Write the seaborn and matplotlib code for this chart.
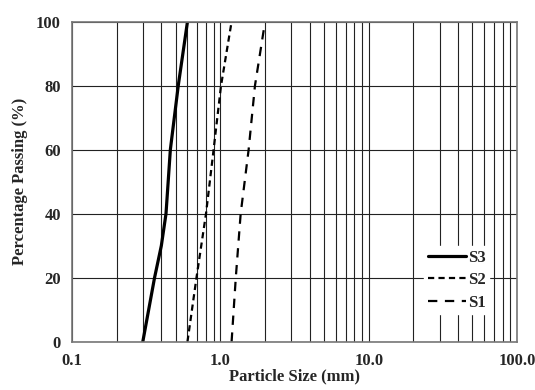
import matplotlib
matplotlib.use('Agg')
import matplotlib.pyplot as plt
import matplotlib.ticker as mticker
import pandas as pd
import seaborn as sns

# Grain size distribution curves
s3_size = [0.30, 0.36, 0.40, 0.43, 0.46, 0.52, 0.60]
s3_pass = [0, 20, 30, 40, 60, 80, 100]
s2_size = [0.60, 0.69, 0.80, 0.90, 1.01, 1.19]
s2_pass = [0, 20, 40, 60, 80, 100]
s1_size = [1.19, 1.27, 1.37, 1.55, 1.71, 2.00]
s1_pass = [0, 20, 40, 60, 80, 100]

x_ticks = [0.1, 1, 10, 100]
x_tick_labels = ['0.1', '1.0', '10.0', '100.0']
y_ticks = [0, 20, 40, 60, 80, 100]

sns.set_style('white')
plt.rcParams['font.family'] = ['Liberation Serif', 'DejaVu Serif']
plt.rcParams['font.weight'] = 'bold'

fig = plt.figure(figsize=(5.35, 3.9), dpi=100)
ax = fig.add_axes([0.1346, 0.1238, 0.832, 0.8206])

series = [
    ('S3', s3_size, s3_pass, dict(linewidth=2.3, linestyle='-')),
    ('S2', s2_size, s2_pass, dict(linewidth=1.6, dashes=(2.8, 1.9))),
    ('S1', s1_size, s1_pass, dict(linewidth=1.6, dashes=(4.2, 3.4))),
]
for name, xs, ys, style in series:
    df = pd.DataFrame({'size': xs, 'passing': ys})
    sns.lineplot(data=df, x='size', y='passing', ax=ax, color='black',
                 label=name, sort=False, estimator=None, **style)

ax.set_xscale('log')
ax.set_xlim(0.1, 100)
ax.set_ylim(0, 100)
ax.set_xticks(x_ticks)
ax.set_xticklabels(x_tick_labels)
ax.xaxis.set_minor_locator(mticker.LogLocator(base=10, subs=range(2, 10)))
ax.xaxis.set_minor_formatter(mticker.NullFormatter())
ax.set_yticks(y_ticks)
ax.grid(True, which='both', axis='x', color='#222222', linewidth=0.8)
ax.grid(True, which='major', axis='y', color='#222222', linewidth=0.8)
ax.set_axisbelow(True)
ax.tick_params(axis='both', which='both', length=0, labelsize=12, pad=8)
for lab in ax.get_xticklabels() + ax.get_yticklabels():
    lab.set_fontweight('bold')
for sp in ax.spines.values():
    sp.set_color('#777777')
    sp.set_linewidth(1.2)

ax.set_xlabel('Particle Size (mm)', fontsize=12, fontweight='bold', labelpad=0)
ax.set_ylabel('Percentage Passing (%)', fontsize=12, fontweight='bold', labelpad=6)

leg = ax.legend(loc='lower right', bbox_to_anchor=(0.955, 0.06), frameon=True,
                fancybox=False, edgecolor='white', facecolor='white', framealpha=1,
                handlelength=2.3, handletextpad=0.1, labelspacing=0.4,
                borderpad=0.2, prop={'weight': 'bold', 'size': 12})

fig.savefig('out.png', dpi=100)
